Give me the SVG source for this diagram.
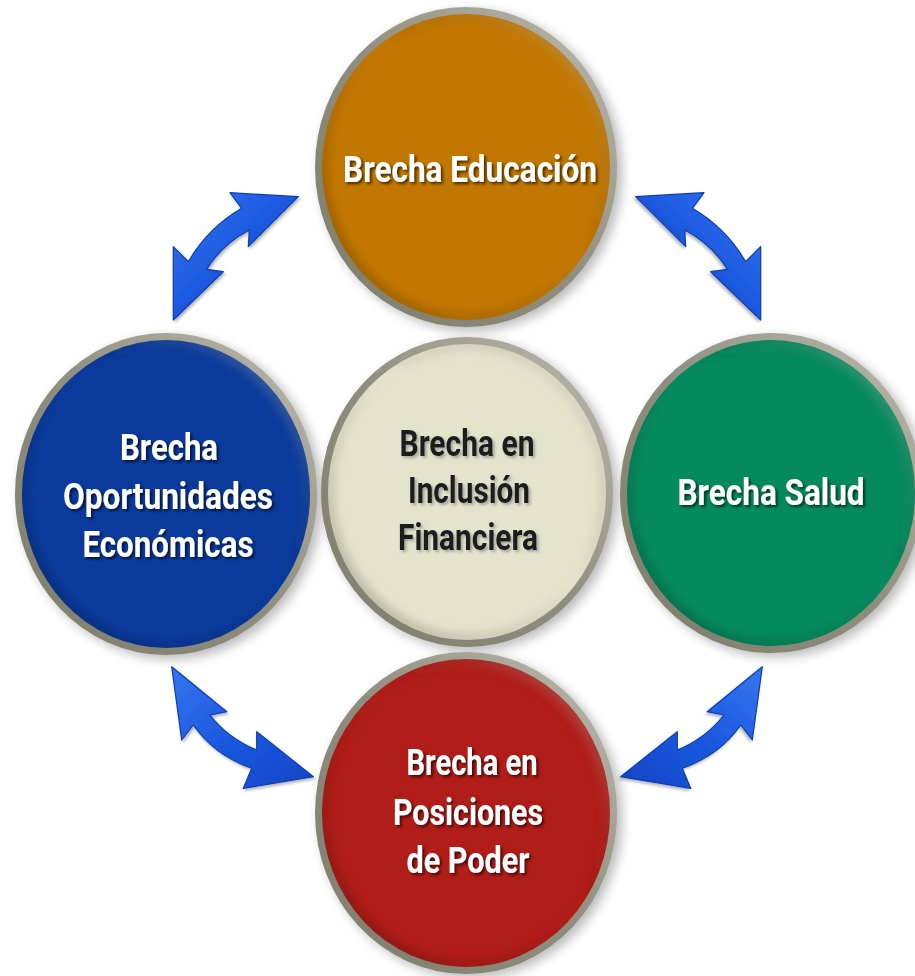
<svg xmlns="http://www.w3.org/2000/svg" xmlns:xlink="http://www.w3.org/1999/xlink" width="915" height="976" viewBox="0 0 915 976">
<defs>
<style>
.lbl{font-family:"Roboto","Liberation Sans",sans-serif;font-weight:bold;font-size:36px;text-anchor:middle;}
.w{fill:#ffffff;filter:url(#tsh);}
.d{fill:#1c1c1c;filter:url(#tshl);}
.ring{fill:url(#ringG);}
.bev{fill:none;stroke:url(#bevG);stroke-width:14;filter:url(#blur4);clip-path:url(#ec);}
.shadow{fill:#000;opacity:0.28;filter:url(#blur6);}
.arr{fill:url(#arrG);stroke:#0b3db0;stroke-width:1.2;stroke-linejoin:round;filter:url(#ash);}
</style>
<linearGradient id="ringG" x1="0" y1="1" x2="1" y2="0">
<stop offset="0" stop-color="#7e7d6c"/>
<stop offset="0.5" stop-color="#8f8e7e"/>
<stop offset="1" stop-color="#bdbbae"/>
</linearGradient>
<linearGradient id="bevG" x1="0" y1="1" x2="1" y2="0">
<stop offset="0" stop-color="#000" stop-opacity="0.22"/>
<stop offset="0.55" stop-color="#000" stop-opacity="0"/>
<stop offset="1" stop-color="#fff" stop-opacity="0.35"/>
</linearGradient>
<linearGradient id="arrG" x1="0" y1="0" x2="1" y2="1">
<stop offset="0" stop-color="#3676f0"/>
<stop offset="0.5" stop-color="#1a58de"/>
<stop offset="1" stop-color="#1046c6"/>
</linearGradient>
<clipPath id="ec" clipPathUnits="objectBoundingBox"><ellipse cx="0.5" cy="0.5" rx="0.5" ry="0.5"/></clipPath>
<filter id="blur4" x="-20%" y="-20%" width="140%" height="140%"><feGaussianBlur stdDeviation="4"/></filter>
<filter id="blur6" x="-20%" y="-20%" width="140%" height="140%"><feGaussianBlur stdDeviation="6"/></filter>
<filter id="tsh" x="-10%" y="-30%" width="120%" height="160%"><feDropShadow dx="2" dy="2" stdDeviation="1.6" flood-color="#000" flood-opacity="0.65"/></filter>
<filter id="tshl" x="-10%" y="-30%" width="120%" height="160%"><feDropShadow dx="2" dy="2" stdDeviation="1.6" flood-color="#777" flood-opacity="0.6"/></filter>
<filter id="ash" x="-20%" y="-20%" width="140%" height="140%"><feDropShadow dx="1.5" dy="2" stdDeviation="1.5" flood-color="#000" flood-opacity="0.3"/></filter>
</defs>
<rect width="915" height="976" fill="#ffffff"/>

<g id="connectors">
<path id="arrUL" class="arr" d="M298.3,196.7 L230,192.7 L241.7,208.3 Q208,227.9 188.3,261.7 L173.3,246.7 L173.3,320 L223.3,271.7 L206.7,269.3 Q222.4,244 249.3,230 L248.3,246.7 Z"/>
<path id="arrUR" class="arr" transform="translate(934,0) scale(-1,1)" d="M298.3,196.7 L230,192.7 L241.7,208.3 Q208,227.9 188.3,261.7 L173.3,246.7 L173.3,320 L223.3,271.7 L206.7,269.3 Q222.4,244 249.3,230 L248.3,246.7 Z"/>
<path id="arrBL" class="arr" d="M171.7,666.7 L226.7,711.7 L210,715 Q227.5,737.8 256.7,750 L256.7,731.7 L313.3,776.7 L243.3,788.3 L251.7,768.3 Q214,755 193.3,725 L181.7,740 Z"/>
<path id="arrBR" class="arr" transform="translate(934,0) scale(-1,1)" d="M171.7,666.7 L226.7,711.7 L210,715 Q227.5,737.8 256.7,750 L256.7,731.7 L313.3,776.7 L243.3,788.3 L251.7,768.3 Q214,755 193.3,725 L181.7,740 Z"/>
</g>

<g id="node-educacion">
<ellipse class="shadow" cx="471" cy="171" rx="151" ry="160"/>
<ellipse class="ring" cx="466" cy="167" rx="151" ry="160"/>
<ellipse cx="466" cy="167" rx="144" ry="153" fill="#c27700"/>
<ellipse class="bev" cx="466" cy="167" rx="144" ry="153"/>
<text class="lbl w" x="470" y="182" textLength="254" lengthAdjust="spacingAndGlyphs">Brecha Educación</text>
</g>

<g id="node-oportunidades">
<ellipse class="shadow" cx="171" cy="498" rx="151" ry="161"/>
<ellipse class="ring" cx="166" cy="494" rx="151" ry="161"/>
<ellipse cx="166" cy="494" rx="144" ry="154" fill="#0a3a9c"/>
<ellipse class="bev" cx="166" cy="494" rx="144" ry="154"/>
<text class="lbl w" x="169" y="460" textLength="98" lengthAdjust="spacingAndGlyphs">Brecha</text>
<text class="lbl w" x="168" y="509" textLength="210" lengthAdjust="spacingAndGlyphs">Oportunidades</text>
<text class="lbl w" x="168" y="557" textLength="171" lengthAdjust="spacingAndGlyphs">Económicas</text>
</g>

<g id="node-inclusion">
<ellipse class="shadow" cx="472" cy="496" rx="146" ry="155"/>
<ellipse class="ring" cx="467" cy="492" rx="146" ry="155"/>
<ellipse cx="467" cy="492" rx="139" ry="148" fill="#e3e4cc"/>
<ellipse class="bev" cx="467" cy="492" rx="139" ry="148"/>
<text class="lbl d" x="467" y="456" textLength="135" lengthAdjust="spacingAndGlyphs">Brecha en</text>
<text class="lbl d" x="469" y="503" textLength="122" lengthAdjust="spacingAndGlyphs">Inclusión</text>
<text class="lbl d" x="468" y="550" textLength="140" lengthAdjust="spacingAndGlyphs">Financiera</text>
</g>

<g id="node-salud">
<ellipse class="shadow" cx="776" cy="497" rx="151" ry="160"/>
<ellipse class="ring" cx="771" cy="493" rx="151" ry="160"/>
<ellipse cx="771" cy="493" rx="144" ry="153" fill="#058a5e"/>
<ellipse class="bev" cx="771" cy="493" rx="144" ry="153"/>
<text class="lbl w" x="771" y="505" textLength="187" lengthAdjust="spacingAndGlyphs">Brecha Salud</text>
</g>

<g id="node-poder">
<ellipse class="shadow" cx="471" cy="817" rx="151" ry="161"/>
<ellipse class="ring" cx="466" cy="813" rx="151" ry="161"/>
<ellipse cx="466" cy="813" rx="144" ry="154" fill="#b11d18"/>
<ellipse class="bev" cx="466" cy="813" rx="144" ry="154"/>
<text class="lbl w" x="472" y="775" textLength="131" lengthAdjust="spacingAndGlyphs">Brecha en</text>
<text class="lbl w" x="468" y="825" textLength="150" lengthAdjust="spacingAndGlyphs">Posiciones</text>
<text class="lbl w" x="468" y="873" textLength="123" lengthAdjust="spacingAndGlyphs">de Poder</text>
</g>
</svg>
